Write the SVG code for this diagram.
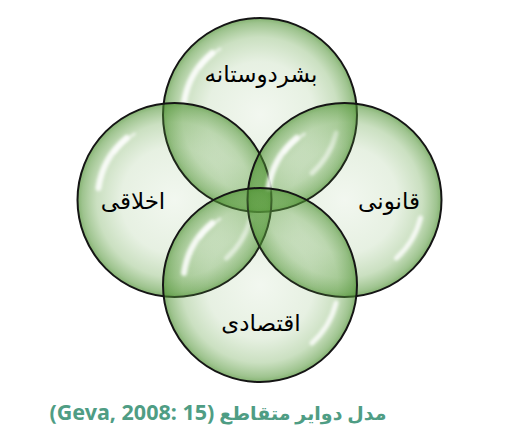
<svg xmlns="http://www.w3.org/2000/svg" width="525" height="439" viewBox="0 0 525 439">
<style>
.ring{fill:url(#g);stroke:#151515;stroke-width:2}
.lbl{font-family:"DejaVu Sans",sans-serif;font-size:23px;fill:#000;text-anchor:middle;direction:rtl}
.cap{font-family:"Noto Sans","DejaVu Sans",sans-serif;font-size:19px;font-weight:bold;fill:#4f9d84;text-anchor:middle;direction:rtl}
.lat{font-size:21.5px}
.gl{fill:none;stroke:#fff;stroke-linecap:round;filter:url(#b)}
</style>
<defs>
<radialGradient id="g" cx="0.5" cy="0.5" r="0.5">
<stop offset="0" stop-color="#5c9e3e" stop-opacity="0.08"/>
<stop offset="0.55" stop-color="#5c9e3e" stop-opacity="0.15"/>
<stop offset="0.8" stop-color="#5c9e3e" stop-opacity="0.32"/>
<stop offset="0.95" stop-color="#4f9333" stop-opacity="0.55"/>
<stop offset="1" stop-color="#4a8e2e" stop-opacity="0.68"/>
</radialGradient>
<filter id="b" x="-50%" y="-50%" width="200%" height="200%"><feGaussianBlur stdDeviation="1.6"/></filter>
<g id="gloss">
<path class="gl" d="M -76 -12 A 80 80 0 0 1 -48 -62" stroke-width="6" stroke-opacity="0.85"/>
<path class="gl" d="M -60 -48 A 80 80 0 0 1 -40 -66" stroke-width="3" stroke-opacity="0.6"/>
<path class="gl" d="M 76 18 A 80 80 0 0 1 52 58" stroke-width="5" stroke-opacity="0.8"/>
</g>
</defs>
<rect width="525" height="439" fill="#fff"/>
<g id="node-top">
<circle class="ring" cx="260" cy="115" r="97"/>
<use href="#gloss" x="260" y="115"/>
</g>
<g id="node-left">
<circle class="ring" cx="174.5" cy="200" r="97"/>
<use href="#gloss" x="174.5" y="200"/>
</g>
<g id="node-right">
<circle class="ring" cx="344.5" cy="200" r="97"/>
<use href="#gloss" x="344.5" y="200"/>
</g>
<g id="node-bottom">
<circle class="ring" cx="260" cy="285" r="97"/>
<use href="#gloss" x="260" y="285"/>
</g>
<g id="connectors"></g>
<g id="labels">
<text class="lbl" x="261" y="82">بشردوستانه</text>
<text class="lbl" x="133" y="209">اخلاقی</text>
<text class="lbl" x="389" y="209">قانونی</text>
<text class="lbl" x="261" y="331">اقتصادی</text>
</g>
<g id="caption">
<text class="cap" x="218" y="420">مدل دواير متقاطع <tspan class="lat">(Geva, 2008: 15)</tspan></text>
</g>
</svg>
